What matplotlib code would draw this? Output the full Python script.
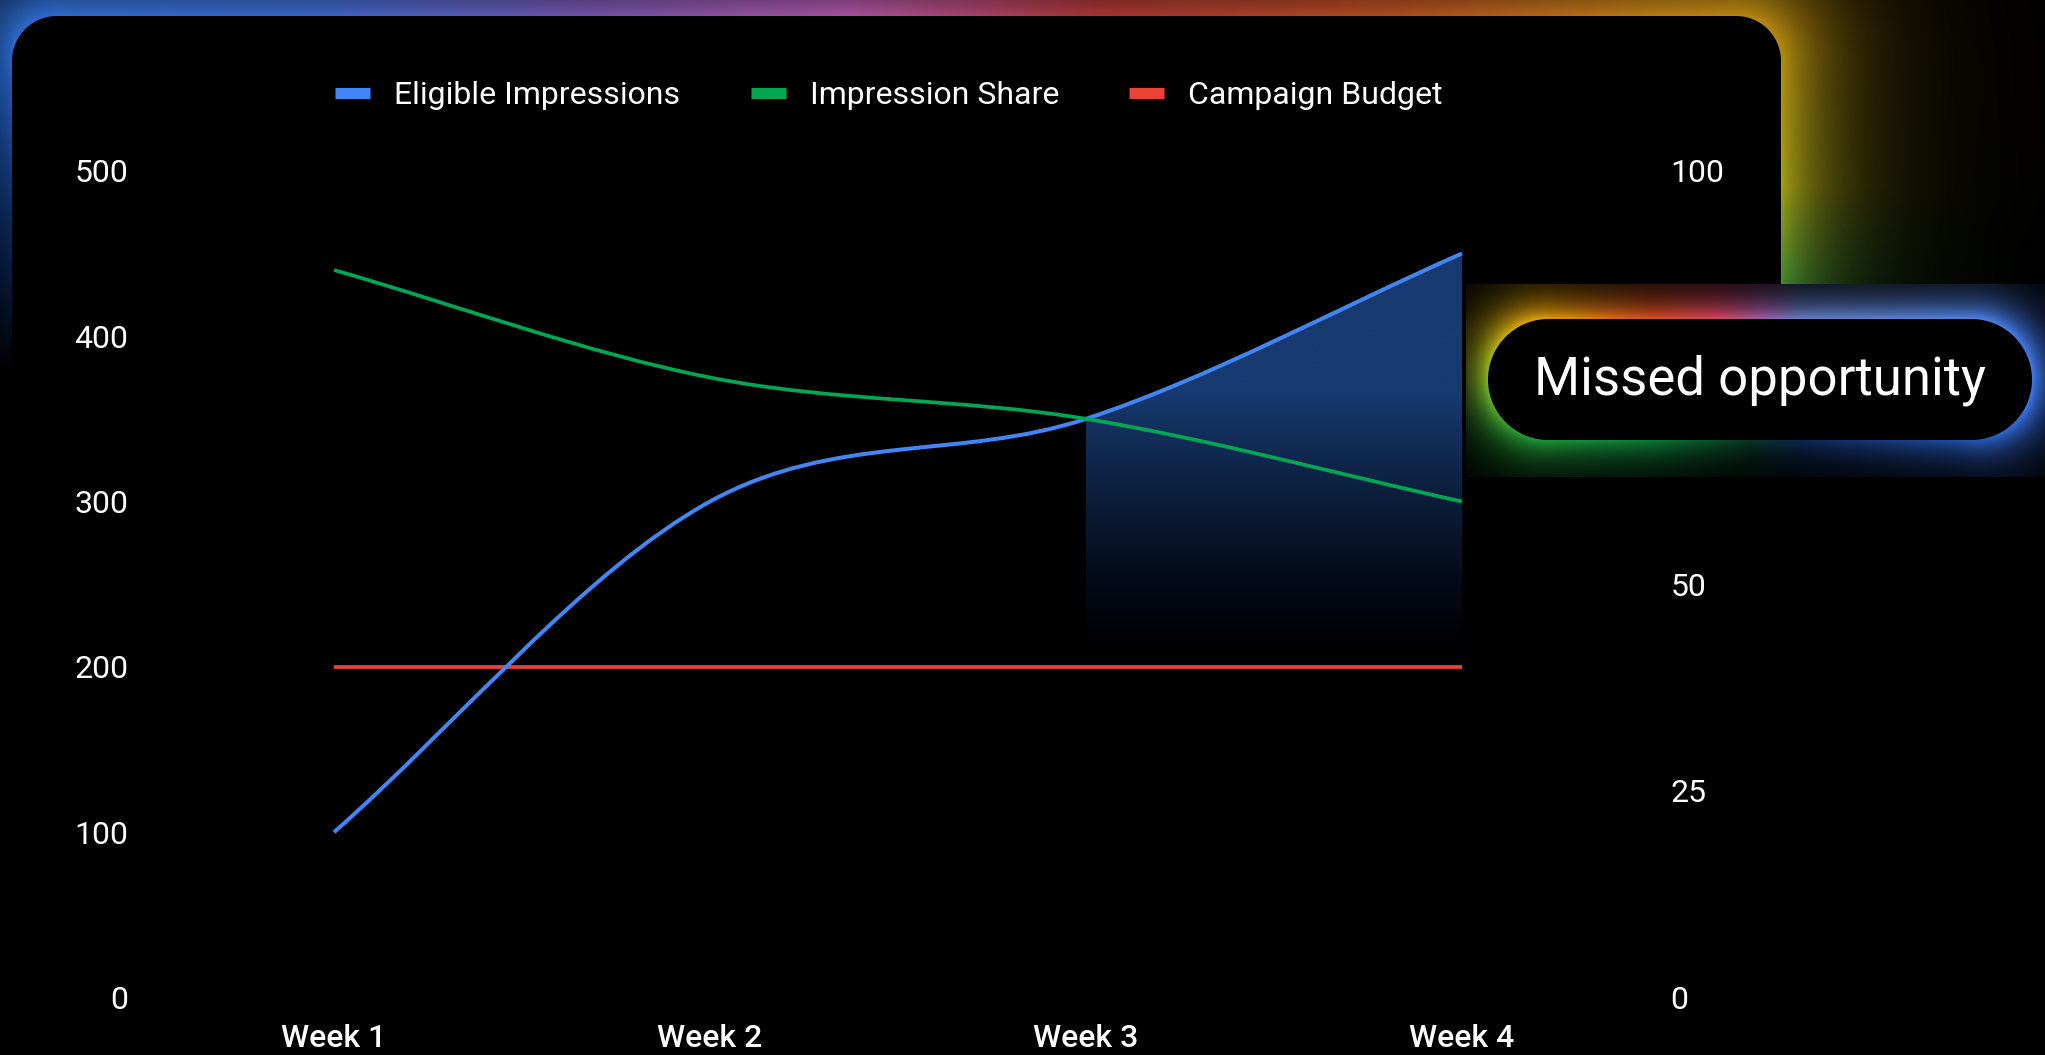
import numpy as np
import matplotlib
matplotlib.use("Agg")
import matplotlib.pyplot as plt
from matplotlib.path import Path
from matplotlib.patches import PathPatch
from matplotlib.lines import Line2D

plt.rcParams['font.family'] = ['Roboto', 'DejaVu Sans']

# data
weeks = ["Week 1", "Week 2", "Week 3", "Week 4"]
eligible_impressions = [100, 300, 350, 450]
impression_share = [88, 75, 70, 60]
campaign_budget = [200, 200, 200, 200]
gap_start = 2  # missed opportunity shaded from Week 3 on

left_ticks = [0, 100, 200, 300, 400, 500]
right_ticks = [0, 25, 50, 100]  # 75 sits under the pill in the original

BLUE = '#4285F4'
GREEN = '#00A651'
RED = '#EA4335'

W, H = 2045, 1055


def monotone_path(xs, ys):
    """Cubic bezier path through the points (monotone tangents, like chart.js)."""
    xs = np.asarray(xs, float)
    ys = np.asarray(ys, float)
    h = np.diff(xs)
    d = np.diff(ys) / h
    m = np.empty_like(ys)
    m[0], m[-1] = d[0], d[-1]
    for i in range(1, len(ys) - 1):
        m[i] = 0 if d[i - 1] * d[i] <= 0 else (d[i - 1] + d[i]) / 2
    for i in range(len(d)):
        if d[i] == 0:
            m[i] = m[i + 1] = 0
            continue
        a, b = m[i] / d[i], m[i + 1] / d[i]
        s = a * a + b * b
        if s > 9:
            t = 3 / np.sqrt(s)
            m[i], m[i + 1] = t * a * d[i], t * b * d[i]
    verts = [(xs[0], ys[0])]
    codes = [Path.MOVETO]
    for i in range(len(d)):
        verts += [(xs[i] + h[i] / 3, ys[i] + m[i] * h[i] / 3),
                  (xs[i + 1] - h[i] / 3, ys[i + 1] - m[i + 1] * h[i] / 3),
                  (xs[i + 1], ys[i + 1])]
        codes += [Path.CURVE4] * 3
    return verts, codes


def rrect_dist(xx, yy, x0, y0, x1, y1, r):
    dx = np.maximum(np.maximum(x0 + r - xx, xx - (x1 - r)), 0)
    dy = np.maximum(np.maximum(y0 + r - yy, yy - (y1 - r)), 0)
    return np.hypot(dx, dy) - r


def interp_colors(s, stops, colors):
    colors = np.asarray(colors, float)
    return np.stack([np.interp(s, stops, colors[:, k]) for k in range(3)], -1)


fig = plt.figure(figsize=(W / 100, H / 100), dpi=100, facecolor='black')

# background: black card with a coloured glow around its edge
yy, xx = np.mgrid[0:H, 0:W] + 0.5
cx0, cy0, cx1, cy1, cr = 12, 16, 1781, H + 300, 45
d = rrect_dist(xx, yy, cx0, cy0, cx1, cy1, cr)
ncy = np.clip(yy, cy0, cy1)
ncx = np.clip(xx, cx0, cx1)
s = np.where(xx < cx0, -(ncy - cy0), np.where(xx > cx1, cx1 + (ncy - cy0), ncx))
glow_stops = [-360, -200, -60, 0, 300, 600, 850, 1100, 1400, 1650, 1781, 1950, 2040, 2120, 2200]
glow_cols = [(0, 0, 0), (0.05, 0.16, 0.36), (0.14, 0.36, 0.72), (0.18, 0.42, 0.80),
             (0.22, 0.40, 0.78), (0.45, 0.32, 0.65), (0.65, 0.32, 0.62), (0.65, 0.20, 0.20),
             (0.68, 0.30, 0.12), (0.72, 0.48, 0.08), (0.72, 0.54, 0.06), (0.64, 0.62, 0.08),
             (0.30, 0.55, 0.18), (0.08, 0.30, 0.10), (0, 0, 0)]
col = interp_colors(s, glow_stops, glow_cols)
inten = np.exp(-np.maximum(d, 0) / 60) * np.clip(d + 0.5, 0, 1)
bg_img = np.clip(col * inten[..., None], 0, 1)

bg = fig.add_axes([0, 0, 1, 1], zorder=0)
bg.imshow(bg_img, extent=(0, W, H, 0), aspect='auto', interpolation='bilinear')
bg.set_xlim(0, W)
bg.set_ylim(H, 0)
bg.axis('off')

# main chart
ax = fig.add_axes([334 / W, 57.4 / H, 1128 / W, 826.8 / H], zorder=2)
ax.patch.set_visible(False)
x = np.arange(len(weeks))

blue_verts, blue_codes = monotone_path(x, eligible_impressions)
ax.add_patch(PathPatch(Path(blue_verts, blue_codes), fill=False, ec=BLUE, lw=2.9,
                       zorder=4, clip_on=False, capstyle='butt'))
ax.plot(x, campaign_budget, color=RED, lw=2.7, zorder=3, clip_on=False, solid_capstyle='butt')

# gradient fill for the gap between eligible impressions and budget
seg = blue_verts[1 + 3 * gap_start: 4 + 3 * gap_start]
fill_verts = [(x[gap_start], campaign_budget[gap_start]),
              (x[gap_start], eligible_impressions[gap_start])] + seg + \
             [(x[-1], campaign_budget[-1]), (x[gap_start], campaign_budget[gap_start])]
fill_codes = [Path.MOVETO, Path.LINETO] + [Path.CURVE4] * 3 + [Path.LINETO, Path.CLOSEPOLY]
clip = PathPatch(Path(fill_verts, fill_codes), transform=ax.transData, fc='none', ec='none')
ax.add_patch(clip)
vals = np.linspace(200, 470, 300)
f = np.clip((vals - 208) / (365 - 208), 0, 1) ** 1.3
top = np.array([0x17, 0x3a, 0x70]) / 255
bottom = np.array([0x00, 0x00, 0x02]) / 255
grad = (bottom[None, :] * (1 - f[:, None]) + top[None, :] * f[:, None])[:, None, :]
im = ax.imshow(grad, extent=(x[gap_start], x[-1], 200, 470), origin='lower',
               aspect='auto', zorder=1, interpolation='bilinear')
im.set_clip_path(clip)

ax.set_xlim(0, 3)
ax.set_ylim(0, 500)
ax.set_xticks(x)
ax.set_xticklabels(weeks, color='white', fontsize=23, fontweight='medium')
ax.set_yticks(left_ticks)
ax.set_yticklabels([str(t) for t in left_ticks], color='white', fontsize=23)
ax.tick_params(axis='y', length=0, pad=148)
ax.tick_params(axis='x', length=0, pad=19)
for sp in ax.spines.values():
    sp.set_visible(False)

ax2 = ax.twinx()
ax2.set_zorder(3)
ax2.patch.set_visible(False)
green_verts, green_codes = monotone_path(x, impression_share)
ax2.add_patch(PathPatch(Path(green_verts, green_codes), fill=False, ec=GREEN, lw=2.7,
                        zorder=3, clip_on=False, capstyle='butt'))
ax2.set_ylim(0, 100)
ax2.set_yticks(right_ticks)
ax2.set_yticklabels([str(t) for t in right_ticks], color='white', fontsize=23)
ax2.tick_params(axis='y', length=0, pad=150)
for sp in ax2.spines.values():
    sp.set_visible(False)

handles = [Line2D([], [], color=c, lw=8, solid_capstyle='butt') for c in (BLUE, GREEN, RED)]
fig.legend(handles, ["Eligible Impressions", "Impression Share", "Campaign Budget"],
           loc='center', bbox_to_anchor=(889 / W, 1 - 96 / H), ncol=3, frameon=False,
           fontsize=23, handlelength=1.1, handletextpad=0.75, columnspacing=2.2,
           labelcolor='white', borderaxespad=0, borderpad=0)

# "Missed opportunity" pill with its own glow
rx0, rx1, ry0, ry1 = 1466, W, 284, 477
yy2, xx2 = np.mgrid[ry0:ry1, rx0:rx1] + 0.5
bx0, by0, bx1, by1 = 1488, 319, 2032, 440
bd = rrect_dist(xx2, yy2, bx0, by0, bx1, by1, 60.5)
bcx = np.clip(xx2, bx0, bx1)
v = ((np.clip(yy2, by0, by1) - by0) / (by1 - by0))[..., None]
top_stops = [1488, 1560, 1650, 1720, 1770, 1800, 1950, 2032]
top_cols = [(0.90, 0.75, 0.05), (0.90, 0.58, 0.05), (0.85, 0.32, 0.12), (0.85, 0.28, 0.40),
            (0.60, 0.38, 0.70), (0.40, 0.50, 0.78), (0.32, 0.52, 0.90), (0.28, 0.50, 0.95)]
bot_stops = [1488, 1650, 1750, 1800, 1950, 2032]
bot_cols = [(0.15, 0.65, 0.22), (0.06, 0.48, 0.22), (0.03, 0.22, 0.14), (0.06, 0.15, 0.32),
            (0.12, 0.30, 0.62), (0.22, 0.45, 0.92)]
bcol = interp_colors(bcx, top_stops, top_cols) * (1 - v) + interp_colors(bcx, bot_stops, bot_cols) * v
binten = np.exp(-np.maximum(bd, 0) / 22) * np.clip(bd + 0.5, 0, 1)
pill_img = np.clip(bcol * binten[..., None], 0, 1)

over = fig.add_axes([0, 0, 1, 1], zorder=10)
over.patch.set_visible(False)
over.imshow(pill_img, extent=(rx0, rx1, ry1, ry0), aspect='auto', interpolation='bilinear')
over.text((bx0 + bx1) / 2, (by0 + by1) / 2 + 1, "Missed opportunity", color='white',
          fontsize=38, ha='center', va='center')
over.set_xlim(0, W)
over.set_ylim(H, 0)
over.axis('off')

plt.savefig('out.png', dpi=100, facecolor='black')
